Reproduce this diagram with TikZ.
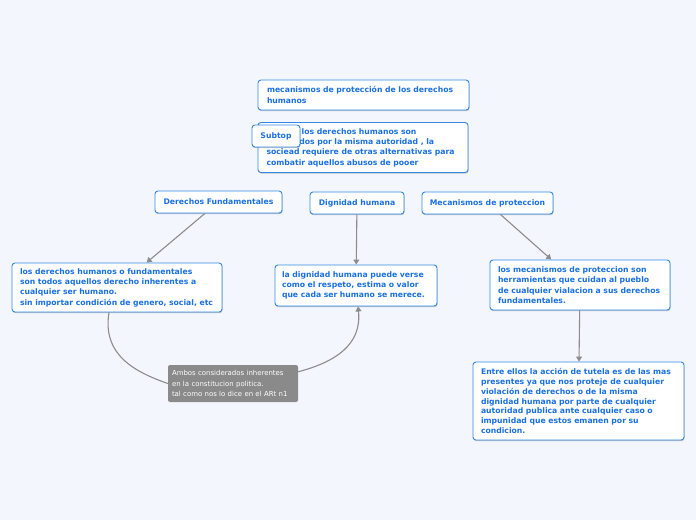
\documentclass[tikz,border=0pt]{standalone}
\usepackage{fontspec}
\setmainfont{DejaVu Sans}
\usetikzlibrary{arrows.meta,shadows,backgrounds,calc}
\definecolor{bg}{RGB}{243,246,253}
\definecolor{bord}{RGB}{52,137,228}
\definecolor{txt}{RGB}{26,112,228}
\definecolor{linec}{RGB}{140,140,140}
\definecolor{notefill}{RGB}{138,138,138}
\begin{document}
\begin{tikzpicture}[x=1pt,y=-1pt,
 box/.style={draw=bord, fill=white, line width=0.9pt, rounded corners=3pt,
   font=\fontsize{7.7}{10.3}\selectfont\bfseries, text=txt, align=left,
   inner xsep=9pt, inner ysep=0pt,
   drop shadow={shadow xshift=0.5pt,shadow yshift=-1.2pt,opacity=0.22,fill=black}},
 topic/.style={box, align=center, inner xsep=0pt},
 conn/.style={draw=linec, line width=1.1pt, -{Triangle[width=6pt,length=5pt]}},
 plain/.style={draw=linec, line width=1.1pt},
 note/.style={fill=notefill, rounded corners=2pt, text=white,
   font=\fontsize{6.95}{10.3}\selectfont, align=left, inner xsep=4pt, inner ysep=0pt}
]
\fill[bg] (0,0) rectangle (696,520);
\useasboundingbox (0,0) rectangle (696,520);

\node[box, text width=193pt, minimum height=30pt] (top) at (363.5,95)
 {mecanismos de protección de los derechos\\humanos};
\node[box, text width=193pt, inner xsep=8.5pt, minimum height=50pt] (frase) at (363,147.5)
 {\phantom{Cuando }los derechos humanos son\\\phantom{vulnera}dos por la misma autoridad , la\\sociead requiere de otras alternativas para\\combatir aquellos abusos de pooer};
\node[topic, minimum width=48pt, minimum height=22pt] (subtop) at (276,136) {Subtop};

\node[topic, minimum width=127pt, minimum height=22pt] (df) at (218.5,202) {Derechos Fundamentales};
\node[topic, minimum width=94pt, minimum height=22pt] (dig) at (357,203) {Dignidad humana};
\node[topic, minimum width=131pt, minimum height=22pt] (mec) at (487.5,203) {Mecanismos de proteccion};

\node[box, text width=194pt, inner xsep=8pt, minimum height=49pt] (left) at (117,287.5)
 {los derechos humanos o fundamentales\\son todos aquellos derecho inherentes a\\cualquier ser humano.\\sin importar condición de genero, social, etc};
\node[box, text width=148pt, inner xsep=7pt, minimum height=41pt] (digt) at (356,285.5)
 {la dignidad humana puede verse\\como el respeto, estima o valor\\que cada ser humano se merece.};
\node[box, text width=164pt, inner xsep=8pt, minimum height=50pt] (mect) at (580,285)
 {los mecanismos de proteccion son\\herramientas que cuidan al pueblo\\de cualquier vialacion a sus derechos\\fundamentales.};
\node[box, text width=195pt, inner xsep=8pt, minimum height=78pt, font=\fontsize{7.7}{9.8}\selectfont\bfseries] (entre) at (578.5,401)
 {Entre ellos la acción de tutela es de las mas\\presentes ya que nos proteje de cualquier\\violación de derechos o de la misma\\dignidad humana por parte de cualquier\\autoridad publica ante cualquier caso o\\impunidad que estos emanen por su\\condicion.};

\node[note, text width=122pt, minimum height=37pt] (note) at (233,383.5)
 {Ambos considerados inherentes\\en la constitucion politica.\\tal como nos lo dice en el ARt n1};

\begin{pgfonlayer}{background}
\draw[conn] (top) -- (df);
\draw[conn] (top) -- (frase);
\draw[conn] (top) -- (dig);
\draw[conn] (top) -- (mec);
\end{pgfonlayer}
\draw[conn] (df) -- (left);
\draw[conn] (dig) -- (digt);
\draw[conn] (mec) -- (mect);
\draw[conn] (mect) -- (entre);
\coordinate (c1) at ($(left.south)+(-8,0)$);
\coordinate (c2) at ($(note.north east)+(0,7)$);
\coordinate (c3) at ($(digt.south)+(2,0)$);
\draw[plain] (c1) .. controls (102,355) and (135,372) .. (note.west);
\draw[conn] (c2) .. controls (335,362) and (362,345) .. (c3);
\end{tikzpicture}
\end{document}
